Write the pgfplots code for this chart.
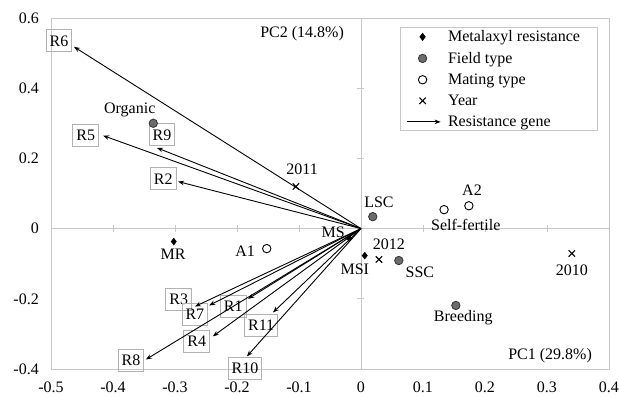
\documentclass[border=0pt]{standalone}
\usepackage{pgfplots}
\pgfplotsset{compat=1.18}
\usepackage{pgfplotstable}
\usepackage{fontspec}
\setmainfont{Liberation Serif}
\usetikzlibrary{arrows.meta}

\pgfplotsset{
  markleg/.style={legend image code/.code={\path[draw=none, fill=none] (0pt,0pt) -- (34pt,0pt); \draw[##1] plot coordinates {(16pt,0pt)};}},
  arrowleg/.style={legend image code/.code={\draw[black, line width=0.9pt, -{Stealth[length=6pt,width=4.5pt]}] (0pt,0pt) -- (34pt,0pt);}},
}

% resistance genes: arrows from origin
\pgfplotstableread{
name x y u v
R6  0 0 -0.463  0.518
R5  0 0 -0.416  0.265
R9  0 0 -0.329  0.230
R2  0 0 -0.295  0.134
R3  0 0 -0.268 -0.222
R7  0 0 -0.245 -0.219
R1  0 0 -0.182 -0.200
R4  0 0 -0.239 -0.307
R8  0 0 -0.347 -0.373
R11 0 0 -0.142 -0.239
R10 0 0 -0.184 -0.364
}\genes

\pgfplotstableread{
x y
-0.302 -0.037
-0.019 -0.028
 0.006 -0.077
}\metalaxyl

\pgfplotstableread{
x y
-0.335  0.300
 0.019  0.034
 0.061 -0.091
 0.153 -0.219
}\field

\pgfplotstableread{
x y
-0.152 -0.057
 0.174  0.065
 0.134  0.054
}\mating

\pgfplotstableread{
x y
 0.340 -0.071
-0.105  0.120
 0.029 -0.088
}\year

\definecolor{frame}{gray}{0.78}
\definecolor{fieldgray}{gray}{0.42}

\begin{document}
\begin{tikzpicture}[font=\fontsize{16}{19}\selectfont,
  gbox/.style={draw=gray!60, line width=0.8pt, inner xsep=3.5pt, minimum height=22pt}]
% zero lines with ticks
\begin{axis}[
  scale only axis, width=558pt, height=351pt,
  xmin=-0.5, xmax=0.4, ymin=-0.4, ymax=0.6,
  axis lines=middle, axis line style={frame, -},
  xtick={-0.5,-0.4,-0.3,-0.2,-0.1,0.1,0.2,0.3},
  ytick={-0.4,-0.2,0.2,0.4},
  xticklabels={}, yticklabels={},
  tick style={frame, line width=0.8pt}, tick align=center, major tick length=7pt,
]
\end{axis}
\begin{axis}[
  name=main,
  scale only axis, width=558pt, height=351pt,
  xmin=-0.5, xmax=0.4, ymin=-0.4, ymax=0.6,
  xtick={-0.5,-0.4,-0.3,-0.2,-0.1,0,0.1,0.2,0.3,0.4},
  ytick={-0.4,-0.2,0,0.2,0.4,0.6},
  axis line style={frame, line width=0.8pt},
  major tick length=0pt,
  /pgf/number format/assume math mode=true,
  /pgf/number format/fixed,
  tick label style={font=\fontsize{16}{19}\selectfont},
  xticklabel style={anchor=north, inner sep=0pt, yshift=-13pt},
  yticklabel style={anchor=east, inner sep=0pt, xshift=-12pt},
  clip=false,
  legend style={at={(rel axis cs:0.625,0.974)}, anchor=north west,
    draw=frame, line width=0.8pt, font=\fontsize{16}{19}\selectfont,
    inner xsep=6pt, inner ysep=3pt, nodes={inner sep=0pt}, row sep=9pt,
    /tikz/every odd column/.append style={column sep=7pt}},
  legend cell align=left,
]
% label boxes for genes
\node[gbox] at (axis cs:-0.487,0.535) {R6};
\node[gbox] at (axis cs:-0.444,0.265) {R5};
\node[gbox] at (axis cs:-0.321,0.267) {R9};
\node[gbox] at (axis cs:-0.319,0.142) {R2};
\node[gbox] at (axis cs:-0.294,-0.202) {R3};
\node[gbox] at (axis cs:-0.268,-0.245) {R7};
\node[gbox] at (axis cs:-0.206,-0.222) {R1};
\node[gbox] at (axis cs:-0.265,-0.321) {R4};
\node[gbox] at (axis cs:-0.371,-0.376) {R8};
\node[gbox] at (axis cs:-0.161,-0.276) {R11};
\node[gbox] at (axis cs:-0.187,-0.398) {R10};

\addplot[only marks, mark=diamond*, mark size=3.5pt, black, markleg] table {\metalaxyl};
\addlegendentry{Metalaxyl resistance\hspace*{11pt}}
\addplot[only marks, mark=*, mark size=4.2pt, draw=black!80, fill=fieldgray, line width=0.8pt, markleg] table {\field};
\addlegendentry{Field type}
\addplot[only marks, mark=*, mark size=4.2pt, draw=black, fill=white, line width=0.9pt, markleg] table {\mating};
\addlegendentry{Mating type}
\addplot[only marks, mark=x, mark size=4.5pt, black, line width=1.1pt, markleg] table {\year};
\addlegendentry{Year\vphantom{y}}
\addplot[black, line width=0.9pt, no markers,
  quiver={u=\thisrow{u}, v=\thisrow{v},
    every arrow/.append style={-{Stealth[length=6pt,width=4.5pt]}}},
  arrowleg]
  table[x=x, y=y] {\genes};
\addlegendentry{Resistance gene}

% point labels
\node at (axis cs:-0.373,0.339) {Organic};
\node at (axis cs:-0.095,0.168) {2011};
\node at (axis cs:-0.303,-0.074) {MR};
\node at (axis cs:-0.187,-0.065) {A1};
\node at (axis cs:-0.045,-0.011) {MS};
\node at (axis cs:0.029,0.074) {LSC};
\node at (axis cs:0.179,0.108) {A2};
\node at (axis cs:0.169,0.009) {Self-fertile};
\node at (axis cs:0.045,-0.046) {2012};
\node at (axis cs:-0.010,-0.117) {MSI};
\node at (axis cs:0.095,-0.125) {SSC};
\node at (axis cs:0.340,-0.119) {2010};
\node at (axis cs:0.165,-0.253) {Breeding};
\node at (axis cs:0.305,-0.361) {PC1 (29.8\%)};
\node at (axis cs:-0.095,0.555) {PC2 (14.8\%)};
\end{axis}
\pgfresetboundingbox
\path[use as bounding box] ([shift={(-51pt,-27pt)}]main.south west) rectangle ++(619pt,396pt);
\end{tikzpicture}
\end{document}
